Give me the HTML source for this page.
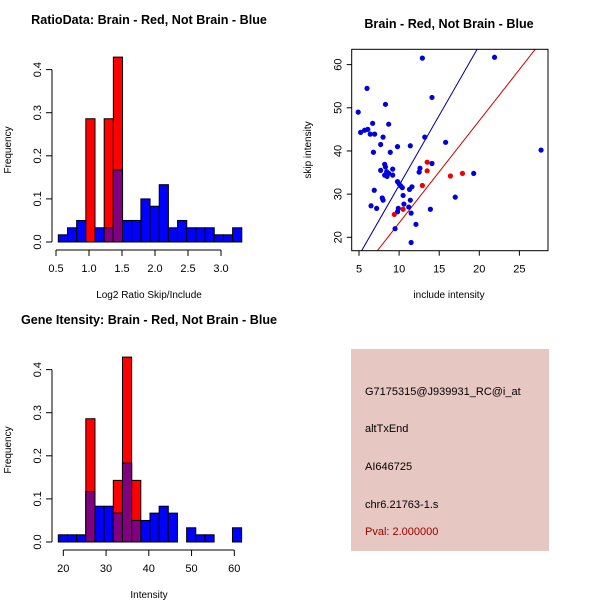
<!DOCTYPE html>
<html><head><meta charset="utf-8"><style>
html,body{margin:0;padding:0;background:#fff;}
svg{display:block;font-family:"Liberation Sans",Arial,sans-serif;}
</style></head><body>
<svg id="c" width="600" height="600" viewBox="0 0 600 600">
<rect width="600" height="600" fill="#fff"/>
</svg>
<script>
// Ratio histogram data
const ratioBinStart = 0.535, ratioBinWidth = 0.139;
const ratioBlue = [0.0167,0.033,0.05,0,0.033,0.033,0.167,0.05,0.05,0.1,0.083,0.133,0.033,0.05,0.033,0.033,0.033,0.0167,0.0167,0.033];
const ratioRed = [0,0,0,0.286,0,0.286,0.429,0,0,0,0,0,0,0,0,0,0,0,0,0];
const ratioXTicks = [0.5,1.0,1.5,2.0,2.5,3.0];
const ratioXLabels = ["0.5","1.0","1.5","2.0","2.5","3.0"];
const freqTicks = [0,0.1,0.2,0.3,0.4];
const freqLabels = ["0.0","0.1","0.2","0.3","0.4"];
// Intensity histogram data
const intBinStart = 18.83, intBinWidth = 2.144;
const intBlue = [0.0167,0.0167,0.0167,0.117,0.083,0.083,0.067,0.183,0.05,0.05,0.067,0.083,0.067,0,0.033,0.0167,0.0167,0,0,0.033];
const intRed = [0,0,0,0.286,0,0,0.143,0.429,0.143,0,0,0,0,0,0,0,0,0,0,0];
const intXTicks = [20,30,40,50,60];
const intXLabels = ["20","30","40","50","60"];
// Scatter data
const blueX = [4.9,5.2,5.7,6.0,6.1,6.4,6.7,6.95,6.8,6.9,6.5,7.2,7.7,7.9,8.0,8.0,8.3,8.7,8.9,7.7,8.2,8.3,8.2,8.5,8.7,9.2,9.2,8.45,9.8,9.8,10.0,10.2,10.4,10.5,10.6,9.9,9.8,9.5,11.4,11.6,11.3,11.4,11.2,11.5,11.5,12.1,12.5,12.6,12.9,13.2,14.1,14.1,13.9,15.8,17.0,19.3,21.9,27.7];
const blueY = [49.0,44.3,44.8,54.5,45.0,43.9,46.4,43.9,39.7,30.9,27.3,26.7,41.5,29.1,28.6,43.2,50.8,46.2,39.7,35.5,36.9,36.3,34.4,34.1,34.8,35.8,34.4,35.2,41.0,32.9,32.4,31.9,31.5,29.7,27.7,26.7,25.9,22.0,41.2,31.7,31.1,28.6,27.0,25.6,18.8,23.0,35.1,36.0,61.5,43.2,52.4,37.1,26.5,42.0,29.3,34.8,61.7,40.2];
const redX = [9.4,10.5,12.9,13.5,13.5,16.4,17.9];
const redY = [25.3,26.5,32.0,37.4,35.4,34.2,34.8];
const lineBlue = [-0.37,3.24]; // intercept, slope
const lineRed = [-0.38,2.37];
const scXTicks = [5,10,15,20,25];
const scYTicks = [20,30,40,50,60];

const NS = "http://www.w3.org/2000/svg";
const svg = document.getElementById('c');
function mk(tag, attrs, parent){
  const e = document.createElementNS(NS, tag);
  for (const k in attrs) e.setAttribute(k, attrs[k]);
  (parent||svg).appendChild(e);
  return e;
}
function txt(x,y,s,size,opts){
  const t = mk('text', Object.assign({x:x,y:y,'font-size':size,'text-anchor':'middle',fill:'#000'}, opts||{}));
  t.textContent = s;
  return t;
}

function histogram(prefix, top, title, xlabel, binStart, binW, blue, red, xt, xl, xmin, xpx){
  const g = mk('g', {});
  
  
  const y0 = top + 202, ypx = 431;
  const X = v => 56 + (v - xmin) * xpx;
  const Y = v => y0 - v * ypx;
  const t = txt(149, top - 16, title, 12.6, {'font-weight':'bold'}); g.appendChild(t);
  
  
  for (let i = 0; i < blue.length; i++){
    const x1 = X(binStart + i*binW), x2 = X(binStart + (i+1)*binW);
    const b = blue[i], r = red[i];
    if (b > 0){
      const e = mk('rect',{x:x1,y:Y(b),width:x2-x1,height:Y(0)-Y(b),fill:'#0000ff',stroke:'#000','stroke-width':1},g);
      
      
    }
    if (r > 0){
      const e = mk('rect',{x:x1,y:Y(r),width:x2-x1,height:Y(0)-Y(r),fill:'#ff0000',stroke:'#000','stroke-width':1},g);
      
      
      const m = Math.min(b, r);
      if (m > 0){
        const p = mk('rect',{x:x1,y:Y(m),width:x2-x1,height:Y(0)-Y(m),fill:'#800080',stroke:'#000','stroke-width':1},g);
        
        
      }
    }
  }
  const ya = mk('g',{},g);
  
  
  mk('line',{x1:52,x2:52,y1:Y(0),y2:Y(0.4),stroke:'#000'},ya);
  freqTicks.forEach((v,i)=>{
    mk('line',{x1:46,x2:52,y1:Y(v),y2:Y(v),stroke:'#000'},ya);
    const tl = txt(0,0,freqLabels[i],11,{transform:`translate(41,${Y(v)}) rotate(-90)`}); ya.appendChild(tl);
  });
  const yt = txt(0,0,'Frequency',10,{transform:`translate(11,${top+110}) rotate(-90)`}); g.appendChild(yt);
  
  
  const xa = mk('g',{},g);
  
  
  mk('line',{x1:X(xt[0]),x2:X(xt[xt.length-1]),y1:top+210,y2:top+210,stroke:'#000'},xa);
  xt.forEach((v,i)=>{
    mk('line',{x1:X(v),x2:X(v),y1:top+210,y2:top+216,stroke:'#000'},xa);
    xa.appendChild(txt(X(v),top+232,xl[i],11));
  });
  const xtt = txt(149, top+258, xlabel, 10); g.appendChild(xtt);
  
  
}

histogram('ratio', 40, 'RatioData: Brain - Red, Not Brain - Blue', 'Log2 Ratio Skip/Include',
  ratioBinStart, ratioBinWidth, ratioBlue, ratioRed, ratioXTicks, ratioXLabels, 0.5, 66);
histogram('intensity', 340, 'Gene Itensity: Brain - Red, Not Brain - Blue', 'Intensity',
  intBinStart, intBinWidth, intBlue, intRed, intXTicks, intXLabels, 18.29, 4.275);

(function(){
  const g = mk('g',{});
  
  
  const L=351.7,R=548,T=49.3,B=250.7;
  const X = v => 359 + (v-5)*8.02;
  const Y = v => 237.3 - (v-20)*4.317;
  const t = txt(449,28,'Brain - Red, Not Brain - Blue',12.6,{'font-weight':'bold'}); g.appendChild(t);
  
  
  const cp = mk('clipPath',{id:'clipS'},g);
  mk('rect',{x:L,y:T,width:R-L,height:B-T},cp);
  const lg = mk('g',{'clip-path':'url(#clipS)'},g);
  [[lineBlue,'#00008b','blue-regression-line'],[lineRed,'#cd0000','red-regression-line']].forEach(([ln,col,nm])=>{
    const xa=0, xb=40;
    const l = mk('line',{x1:X(xa),y1:Y(ln[0]+ln[1]*xa),x2:X(xb),y2:Y(ln[0]+ln[1]*xb),stroke:col,'stroke-width':1},lg);
    
    
  });
  blueX.forEach((x,i)=>{
    const c = mk('circle',{cx:X(x),cy:Y(blueY[i]),r:2.6,fill:'#0000dd'},g);
    
    
  });
  redX.forEach((x,i)=>{
    const c = mk('circle',{cx:X(x),cy:Y(redY[i]),r:2.6,fill:'#ee0000'},g);
    
    
  });
  const box = mk('rect',{x:L,y:T,width:R-L,height:B-T,fill:'none',stroke:'#000'},g);
  
  
  const xa = mk('g',{},g);
  
  
  scXTicks.forEach(v=>{
    mk('line',{x1:X(v),x2:X(v),y1:B,y2:B+5,stroke:'#000'},xa);
    xa.appendChild(txt(X(v),B+22,String(v),11));
  });
  const ya = mk('g',{},g);
  
  
  scYTicks.forEach(v=>{
    mk('line',{x1:L-5,x2:L,y1:Y(v),y2:Y(v),stroke:'#000'},ya);
    ya.appendChild(txt(0,0,String(v),11,{transform:`translate(${L-10},${Y(v)}) rotate(-90)`}));
  });
  const xt = txt(449,298,'include intensity',10); g.appendChild(xt);
  
  
  const yt = txt(0,0,'skip intensity',10,{transform:'translate(311,150) rotate(-90)'}); g.appendChild(yt);
  
  
})();
</script>
<div style="position:absolute;left:351px;top:349px;width:198px;height:202px;background:#e6c7c1;font-family:'Liberation Sans',Arial,sans-serif;font-size:11px;color:#000;">
  <div style="position:absolute;left:14px;top:37px;">G7175315@J939931_RC@i_at</div>
  <div style="position:absolute;left:14px;top:74px;">altTxEnd</div>
  <div style="position:absolute;left:14px;top:112px;">AI646725</div>
  <div style="position:absolute;left:14px;top:150px;">chr6.21763-1.s</div>
  <div style="position:absolute;left:14px;top:177px;color:#a00000;">Pval: 2.000000</div>
</div>
</body></html>
